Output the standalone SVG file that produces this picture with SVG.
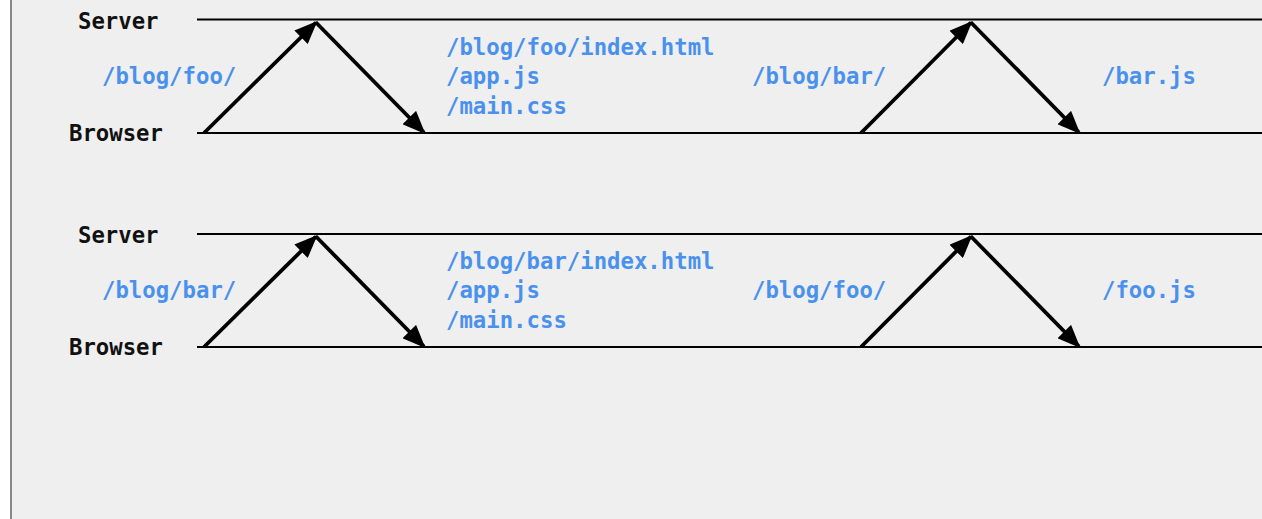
<svg xmlns="http://www.w3.org/2000/svg" width="1262" height="519" viewBox="0 0 1262 519">
  <defs>
    <style>
      .lane { stroke: #000; stroke-width: 2; fill: none; }
      .msg { stroke: #000; stroke-width: 3.8; fill: none; marker-end: url(#head); }
      .actor { font-family: "DejaVu Sans Mono", "Liberation Mono", monospace; font-weight: bold; font-size: 22.3px; fill: #111; }
      .path { font-family: "DejaVu Sans Mono", "Liberation Mono", monospace; font-weight: bold; font-size: 22.3px; fill: #4a91ee; }
    </style>
    <marker id="head" markerUnits="userSpaceOnUse" markerWidth="23" markerHeight="19" refX="21" refY="9.5" orient="auto">
      <path d="M0,0 L23,9.5 L0,19 Z" fill="#000"/>
    </marker>
  </defs>

  <!-- canvas -->
  <rect x="0" y="0" width="1262" height="519" fill="#fff"/>
  <rect x="11" y="0" width="1251" height="519" fill="#efefef"/>
  <line x1="11" y1="0" x2="11" y2="519" stroke="#888" stroke-width="2"/>

  <!-- scenario 1: /blog/foo/ then /blog/bar/ -->
  <g id="scenario-foo-first">
    <g id="s1-server">
      <text class="actor" x="78" y="29">Server</text>
      <line class="lane" x1="197" y1="19.5" x2="1262" y2="19.5"/>
    </g>
    <g id="s1-browser">
      <text class="actor" x="69" y="141">Browser</text>
      <line class="lane" x1="197" y1="133" x2="1262" y2="133"/>
    </g>
    <g id="s1-labels">
      <text class="path" x="102" y="84">/blog/foo/</text>
      <text class="path" x="446" y="54.5">/blog/foo/index.html</text>
      <text class="path" x="446" y="84">/app.js</text>
      <text class="path" x="446" y="113.5">/main.css</text>
      <text class="path" x="752" y="84">/blog/bar/</text>
      <text class="path" x="1102" y="84">/bar.js</text>
    </g>
    <g id="s1-connectors">
      <line class="msg" x1="204" y1="133" x2="316" y2="22.5"/>
      <line class="msg" x1="316" y1="22.5" x2="424" y2="132.5"/>
      <line class="msg" x1="861" y1="133" x2="971" y2="22.5"/>
      <line class="msg" x1="971" y1="22.5" x2="1079" y2="132.5"/>
    </g>
  </g>

  <!-- scenario 2: /blog/bar/ then /blog/foo/ -->
  <g id="scenario-bar-first">
    <g id="s2-server">
      <text class="actor" x="78" y="243">Server</text>
      <line class="lane" x1="197" y1="234" x2="1262" y2="234"/>
    </g>
    <g id="s2-browser">
      <text class="actor" x="69" y="355">Browser</text>
      <line class="lane" x1="197" y1="347" x2="1262" y2="347"/>
    </g>
    <g id="s2-labels">
      <text class="path" x="102" y="298">/blog/bar/</text>
      <text class="path" x="446" y="268.5">/blog/bar/index.html</text>
      <text class="path" x="446" y="298">/app.js</text>
      <text class="path" x="446" y="327.5">/main.css</text>
      <text class="path" x="752" y="298">/blog/foo/</text>
      <text class="path" x="1102" y="298">/foo.js</text>
    </g>
    <g id="s2-connectors">
      <line class="msg" x1="204" y1="347" x2="316" y2="236.5"/>
      <line class="msg" x1="316" y1="236.5" x2="424" y2="346.5"/>
      <line class="msg" x1="861" y1="347" x2="971" y2="236.5"/>
      <line class="msg" x1="971" y1="236.5" x2="1079" y2="346.5"/>
    </g>
  </g>
</svg>
